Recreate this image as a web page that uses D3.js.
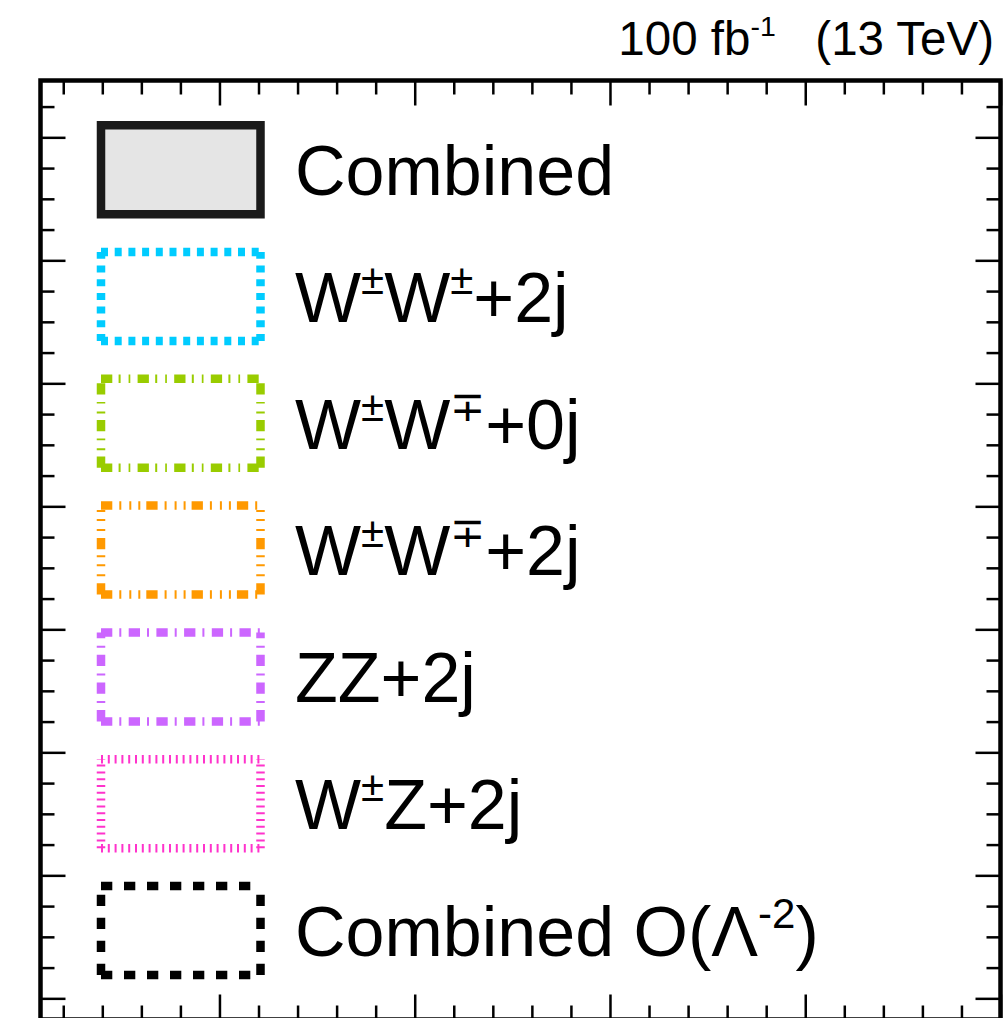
<!DOCTYPE html>
<html>
<head>
<meta charset="utf-8">
<script src="https://cdn.jsdelivr.net/npm/d3@7"></script>
<style>
  body { margin: 0; background: #fff; }
  svg { display: block; font-family: "Liberation Sans", Arial, Helvetica, sans-serif; }
  .axis path { display: none; }
  .axis line { stroke: #000; stroke-width: 2.5; }
  text { white-space: pre; }
</style>
</head>
<body>
<svg id="chart" width="1004" height="1018"></svg>
<script>
// legend entries, TLatex-like markup: ^{...} is a superscript
const legendLabels = [
  "Combined",
  "W^{±}W^{±}+2j",
  "W^{±}W^{∓}+0j",
  "W^{±}W^{∓}+2j",
  "ZZ+2j",
  "W^{±}Z+2j",
  "Combined O(Λ^{-2})"
]
const headerLabel = "100 fb^{-1}   (13 TeV)"

// axis ticks (no labels shown in this crop)
const xMajor = [0, 1, 2, 3, 4]
const yMajor = [0, 1, 2, 3, 4, 5, 6, 7]

// line styles, one per legend entry
const legendStyles = [
  { stroke: "#1a1a1a", fill: "#e5e5e5", dash: null },
  { stroke: "#00ccff", fill: "none", dash: "7,6.7" },
  { stroke: "#99cc00", fill: "none", dash: "11.3,6.3,2,8,1.7,7.3" },
  { stroke: "#ff9900", fill: "none", dash: "11.3,7,2,8,2,7,2,6" },
  { stroke: "#cc66ff", fill: "none", dash: "11.3,7,2,7.4" },
  { stroke: "#ff33cc", fill: "none", dash: "2,4.8" },
  { stroke: "#000000", fill: "none", dash: "11.3,11.7" }
]

const svg = d3.select("#chart")
const frame = { left: 40.5, right: 1000.5, top: 80.5, bottom: 1019.5 }

const x = d3.scaleLinear()
  .domain([-0.9165, 4])
  .range([frame.left, frame.right])

const y = d3.scaleLinear()
  .domain([-0.172, 7.462])
  .range([frame.bottom, frame.top])

// minor ticks: 5 per x major, 4 per y major
const xMinor = d3.range(-4, 21).map(i => i / 5).filter(v => v > x.domain()[0] && !xMajor.includes(v))
const yMinor = d3.range(0, 30).map(i => i / 4).filter(v => v < y.domain()[1] && !yMajor.includes(v))

/* draws inward pointing ticks on all four sides */
function drawTicks(vals, len) {
  svg.append("g").attr("class", "axis")
    .attr("transform", "translate(0," + frame.top + ")")
    .call(d3.axisTop(x).tickValues(vals.x).tickSize(-len).tickFormat(""))
  svg.append("g").attr("class", "axis")
    .attr("transform", "translate(0," + frame.bottom + ")")
    .call(d3.axisBottom(x).tickValues(vals.x).tickSize(-len).tickFormat(""))
  svg.append("g").attr("class", "axis")
    .attr("transform", "translate(" + frame.left + ",0)")
    .call(d3.axisLeft(y).tickValues(vals.y).tickSize(-len).tickFormat(""))
  svg.append("g").attr("class", "axis")
    .attr("transform", "translate(" + frame.right + ",0)")
    .call(d3.axisRight(y).tickValues(vals.y).tickSize(-len).tickFormat(""))
}

drawTicks({ x: xMinor, y: yMinor }, 14)
drawTicks({ x: xMajor, y: yMajor }, 25)

// frame
svg.append("rect")
  .attr("x", frame.left)
  .attr("y", frame.top)
  .attr("width", frame.right - frame.left)
  .attr("height", frame.bottom - frame.top)
  .attr("fill", "none")
  .attr("stroke", "#000")
  .attr("stroke-width", 4.5)

/* writes a string with ^{} superscripts into a text element */
function latex(sel, str, size) {
  const parts = str.split(/\^\{([^}]*)\}/)
  const up = size * 0.4
  let shift = 0 // baseline offset still to undo
  parts.forEach((p, i) => {
    if (!p) return
    if (i % 2 == 1) {
      sel.append("tspan")
        .attr("font-size", size * 0.6)
        .attr("dy", -up - shift)
        .text(p)
      shift = -up
    } else {
      sel.append("tspan")
        .attr("dy", -shift)
        .text(p)
      shift = 0
    }
  })
}

// header
svg.append("text")
  .attr("x", 994)
  .attr("y", 55)
  .attr("text-anchor", "end")
  .attr("font-size", 47.5)
  .call(latex, headerLabel, 47.5)

// legend
const row = d3.scalePoint()
  .domain(legendLabels)
  .range([169.7, 930.5])

const box = { x0: 101, x1: 260.5, h: 89 }

const entries = svg.selectAll(".legend")
  .data(legendLabels)
  .join("g")
  .attr("class", "legend")
  .attr("transform", d => "translate(0," + row(d) + ")")

entries.each(function(d, i) {
  const g = d3.select(this)
  const s = legendStyles[i]
  const t = -box.h / 2, b = box.h / 2
  if (s.fill != "none") {
    g.append("rect")
      .attr("x", box.x0).attr("y", t)
      .attr("width", box.x1 - box.x0).attr("height", box.h)
      .attr("fill", s.fill)
  }
  // each side is its own subpath, so the dash pattern restarts at the corners
  const path = "M" + box.x0 + "," + b + "H" + box.x1 +
    "M" + box.x1 + "," + b + "V" + t +
    "M" + box.x0 + "," + t + "H" + box.x1 +
    "M" + box.x0 + "," + b + "V" + t
  g.append("path")
    .attr("d", path)
    .attr("fill", "none")
    .attr("stroke", s.stroke)
    .attr("stroke-width", 8.5)
    .attr("stroke-linecap", s.dash ? "butt" : "square")
    .attr("stroke-dasharray", s.dash)

  g.append("text")
    .attr("x", 295)
    .attr("y", 25.3)
    .attr("font-size", 70)
    .call(latex, d, 70)
})
</script>
</body>
</html>
